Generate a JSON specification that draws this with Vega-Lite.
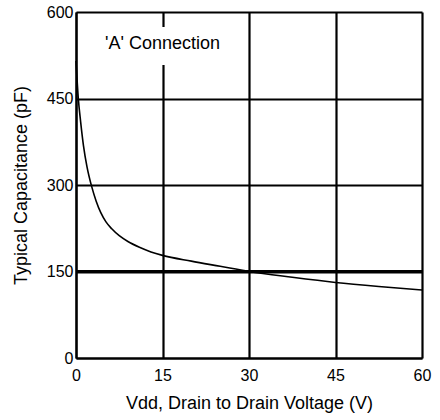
{
  "$schema": "https://vega.github.io/schema/vega-lite/v6.json",
  "width": 346,
  "height": 346,
  "autosize": {"type": "none"},
  "padding": {"left": 76, "top": 12, "right": 18, "bottom": 62},
  "config": {
    "font": "Liberation Sans",
    "view": {"stroke": null},
    "axis": {
      "grid": true,
      "domainColor": "black",
      "domainWidth": 2,
      "gridColor": "black",
      "gridWidth": 2.2,
      "gridOpacity": 1,
      "ticks": false,
      "labelColor": "black",
      "titleColor": "black",
      "labelFont": "Liberation Sans",
      "titleFont": "Liberation Sans",
      "labelFontSize": 16,
      "titleFontSize": 18,
      "titleFontWeight": "normal",
      "labelFlush": false
    }
  },
  "data": {
    "values": [
      {"V": 0, "C": 515},
      {"V": 0.4, "C": 450},
      {"V": 0.8, "C": 410},
      {"V": 1.3, "C": 368},
      {"V": 1.9, "C": 332},
      {"V": 2.7, "C": 298},
      {"V": 3.5, "C": 272},
      {"V": 4.3, "C": 252},
      {"V": 5.2, "C": 236},
      {"V": 6.2, "C": 224},
      {"V": 7.5, "C": 212},
      {"V": 9, "C": 202},
      {"V": 11, "C": 192},
      {"V": 13, "C": 184},
      {"V": 15, "C": 178},
      {"V": 20, "C": 168},
      {"V": 25, "C": 159},
      {"V": 30, "C": 150},
      {"V": 37.5, "C": 140},
      {"V": 45, "C": 131},
      {"V": 52.5, "C": 124},
      {"V": 60, "C": 118}
    ]
  },
  "layer": [
    {
      "mark": {"type": "line", "color": "black", "strokeWidth": 1.6, "interpolate": "monotone"},
      "encoding": {
        "x": {
          "field": "V",
          "type": "quantitative",
          "scale": {"domain": [0, 60], "nice": false},
          "axis": {"grid": true, "values": [0, 15, 30, 45, 60], "title": "Vdd, Drain to Drain Voltage (V)", "labelPadding": 9, "titlePadding": 11}
        },
        "y": {
          "field": "C",
          "type": "quantitative",
          "scale": {"domain": [0, 600], "nice": false},
          "axis": {"grid": true, "values": [0, 150, 300, 450, 600], "title": "Typical Capacitance (pF)", "labelPadding": 3, "titlePadding": 16}
        }
      }
    },
    {
      "data": {"values": [{"label": "150 pF line"}]},
      "mark": {"type": "rule", "color": "black", "strokeWidth": 3.2},
      "encoding": {"y": {"datum": 150, "type": "quantitative"}}
    },
    {
      "data": {"values": [{"label": "label background"}]},
      "mark": {"type": "rect", "fill": "white", "stroke": null},
      "encoding": {
        "x": {"datum": 3.8, "type": "quantitative"},
        "x2": {"datum": 26.2},
        "y": {"datum": 508, "type": "quantitative"},
        "y2": {"datum": 574}
      }
    },
    {
      "data": {"values": [{"label": "'A' Connection"}]},
      "mark": {"type": "text", "fontSize": 18, "fill": "black", "align": "center", "baseline": "middle", "font": "Liberation Sans"},
      "encoding": {
        "text": {"field": "label"},
        "x": {"datum": 15, "type": "quantitative"},
        "y": {"datum": 545, "type": "quantitative"}
      }
    }
  ]
}
